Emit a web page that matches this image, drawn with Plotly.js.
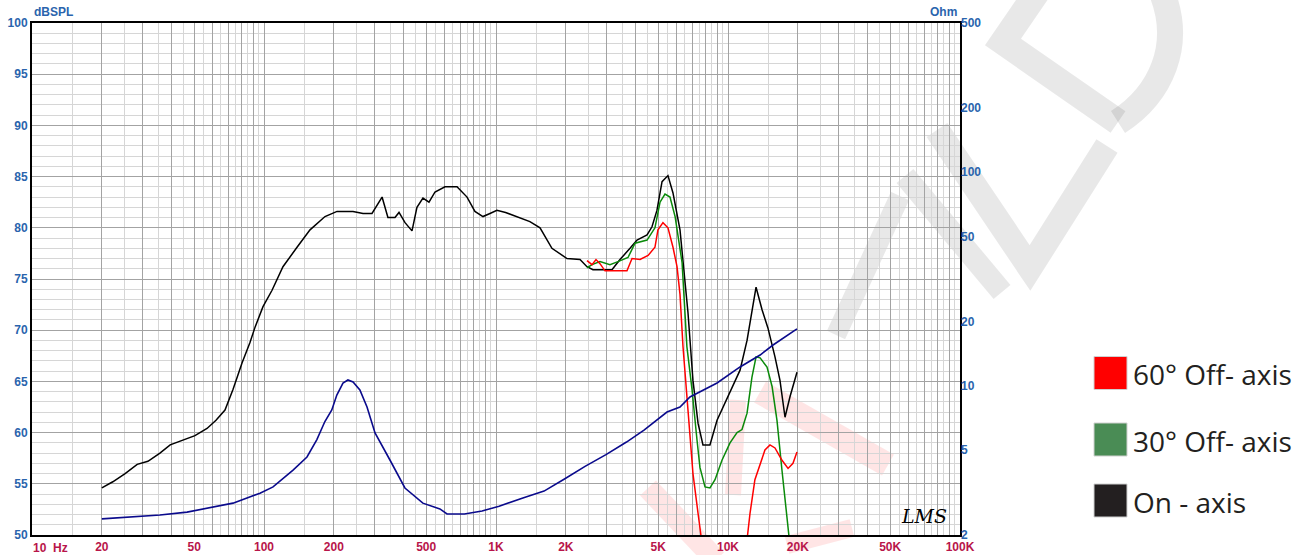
<!DOCTYPE html>
<html>
<head>
<meta charset="utf-8">
<script src="https://cdn.plot.ly/plotly-3.0.1.min.js"></script>
<style>html,body{margin:0;padding:0;background:#fff;}#chart{width:1310px;height:555px;}</style>
</head>
<body>
<div id="chart"></div>
<script>
// ---------- DATA ----------
const onAxisFreq = [20,22.3,25.2,28.4,31.6,35.6,39.4,44.3,50.4,56.8,60.3,62.1,67.9,73.5,80.4,87,91.5,99,108.3,113.7,120.7,138.8,157.9,183.2,206.4,241.9,267.2,292.1,322.8,342.1,367,381.9,405.4,434.5,456.3,484.3,514.2,545.9,602.7,679.1,750.1,811.2,878.8,942,1009,1100,1250,1400,1548,1742,2023,2302,2467,2618,3162,3423,3782,4053,4478,4703,4940,5196,5511,5793,6210,6527,6723,7063,7430,7800,8360,8970,9700,10510,11270,12080,13210,14020,14870,15940,16750,17610,18500,19830];
const onAxisDb   = [54.6,55.2,56.0,56.9,57.2,58.0,58.8,59.2,59.7,60.4,60.9,61.2,62.2,64.2,66.8,68.8,70.3,72.3,73.9,74.9,76.2,78.1,79.8,81.1,81.6,81.6,81.4,81.4,83.0,81.0,81.0,81.5,80.5,79.7,82.0,82.9,82.5,83.5,84.0,84.0,83.0,81.6,81.1,81.4,81.7,81.5,81.0,80.6,80.0,78.0,77.0,76.9,76.2,75.9,75.9,76.9,78.0,78.8,79.3,80.1,81.7,84.5,85.1,83.4,79.8,74.2,71.7,65.1,60.9,58.8,58.8,61.2,62.9,64.5,66.1,69.0,74.2,72.0,70.2,67.4,65.1,61.5,63.5,65.9];

const off30Freq = [2467,2594,2807,3099,3355,3707,3975,4478,4843,5094,5350,5623,5916,6340,6650,6998,7350,7570,7960,8360,8790,9420,10200,10940,11490,12080,12680,13210,13750,14730,15490,16260,17090,17960,18330,18700];
const off30Db   = [76.1,76.4,76.7,76.4,76.7,77.1,78.5,78.8,80.0,82.5,83.3,83.0,81.1,76.6,68.4,64.2,59.3,56.6,54.7,54.6,55.4,57.3,59.0,60.0,60.3,61.9,65.4,67.4,67.3,66.4,64.5,61.2,56.3,52.1,49.8,47.5];

const off60Freq = [2467,2594,2698,2807,2951,3669,3857,4178,4524,4843,4990,5244,5511,5793,6030,6210,6397,6723,7063,7430,7650,7900,11800,12080,12440,13060,13750,14430,15170,15940,17090,18150,19060,19830];
const off60Db   = [76.8,76.4,76.9,76.5,75.8,75.8,77.0,76.9,77.3,78.1,79.8,80.5,80.0,78.1,76.2,73.5,68.4,61.9,56.0,52.1,49.8,47.5,47.5,49.8,52.1,55.4,57.0,58.3,58.8,58.5,57.3,56.5,57.0,58.1];

const impFreq = [20,27.3,35.6,46.6,60.3,73.5,96.1,109.4,133.4,153.2,169,183,196,206,219,230,242,259,278,292,301,349,405,484,573,615,731,871,1031,1306,1611,1973,2420,2979,3652,4345,4898,5458,6210,6855,8970,11270,13750,15640,19830];
const impOhm  = [2.38,2.43,2.48,2.56,2.71,2.82,3.14,3.36,4.03,4.64,5.6,6.8,7.7,9.05,10.3,10.64,10.42,9.55,7.95,6.77,6.01,4.49,3.32,2.82,2.65,2.51,2.51,2.59,2.73,2.98,3.21,3.66,4.19,4.76,5.45,6.2,6.85,7.53,7.95,8.86,10.3,12.25,13.93,15.52,18.45];

const xLabelVals = [20,50,100,200,500,1000,2000,5000,10000,20000,50000,100000];
const xLabelText = ["20","50","100","200","500","1K","2K","5K","10K","20K","50K","100K"];
const yTicks  = [50,55,60,65,70,75,80,85,90,95,100];
const ohmTicks = [2,5,10,20,50,100,200,500];
const legendNames  = ["60° Off- axis","30° Off- axis","On - axis"];
const legendColors = ["#ff0000","#4a8c55","#231f20"];

// ---------- geometry helpers ----------
const W = 1310, H = 555, L = 32, R = 960, T = 23, B = 535;
const px = x => (x - L) / (R - L);
const py = y => (B - y) / (B - T);

// grid values
const majorX = [], minorX = [];
for (let d = 10; d <= 10000; d *= 10) {
  for (let k = 1; k <= 9; k++) majorX.push(k * d);
  for (let k = 1.5; k < 10; k += 1) minorX.push(k * d);
}
majorX.push(100000);
const majorXText = majorX.map(v => {
  const i = xLabelVals.findIndex(a => Math.abs(a - v) < 1e-6);
  return i >= 0 ? xLabelText[i] : "";
});

const blue = "#2a64ad";
const crimson = "#b8154a";
const tickFontY = {family: "Liberation Sans, Arial, sans-serif", size: 12, color: blue, weight: "bold"};
const tickFontX = {family: "Liberation Sans, Arial, sans-serif", size: 12, color: crimson, weight: "bold"};

const traces = [
  {x: impFreq, y: impOhm, yaxis: "y2", mode: "lines", line: {color: "#0a0a8c", width: 1.6}, hoverinfo: "skip"},
  {x: onAxisFreq, y: onAxisDb, mode: "lines", line: {color: "#000000", width: 1.5}, hoverinfo: "skip"},
  {x: off30Freq, y: off30Db, mode: "lines", line: {color: "#0a8a0a", width: 1.5}, hoverinfo: "skip"},
  {x: off60Freq, y: off60Db, mode: "lines", line: {color: "#ff0000", width: 1.5}, hoverinfo: "skip"}
];

// decorative watermark strokes (pixel paths -> paper)
function pathFrom(pts, curve) {
  return pts.map((p, i) => (i === 0 ? "M " : (p[2] || "L ")) + px(p[0]).toFixed(4) + " " + py(p[1]).toFixed(4)).join(" ");
}
const wmGray = "rgba(0,0,0,0.09)";
const wmPink = "rgba(255,0,0,0.10)";
const shapes = [];
function stroke(pts, color, w) {
  shapes.push({type: "path", xref: "paper", yref: "paper", layer: "below",
    path: pathFrom(pts), line: {color: color, width: w}});
}
stroke([[937,130],[1030,268],[1107,146]], wmGray, 25);
stroke([[905,176],[1002,292]], wmGray, 22);
stroke([[900,196],[836,335]], wmGray, 20);
stroke([[1040,-12],[1003,42],[1118,122]], wmGray, 26);
shapes.push({type: "path", xref: "paper", yref: "paper", layer: "below",
  path: "M " + px(1118) + " " + py(122) + " C " + px(1160) + " " + py(95) + " " + px(1185) + " " + py(45) + " " + px(1160) + " " + py(-12),
  line: {color: wmGray, width: 26}});
stroke([[760,392],[888,465]], wmPink, 24);
stroke([[738,400],[733,495]], wmPink, 16);
stroke([[648,488],[716,560]], wmPink, 22);
stroke([[787,545],[852,528]], wmPink, 18);

// legend squares
const legY = [373, 439.5, 500.5];
legendNames.forEach((n, i) => {
  shapes.push({type: "rect", xref: "paper", yref: "paper",
    x0: px(1094), x1: px(1127), y0: py(legY[i] + 16.5), y1: py(legY[i] - 16.5),
    fillcolor: legendColors[i], line: {color: "#d0d0d0", width: 1}});
});

const annotations = [
  {xref: "paper", yref: "paper", x: px(31), y: py(548), xanchor: "left", yanchor: "middle",
   text: "10  Hz", showarrow: false, font: tickFontX},
  {xref: "paper", yref: "paper", x: px(32), y: py(12), xanchor: "left", yanchor: "middle",
   text: "dBSPL", showarrow: false, font: {family: "Liberation Sans, Arial, sans-serif", size: 12, color: blue, weight: "bold"}},
  {xref: "paper", yref: "paper", x: px(959), y: py(12), xanchor: "right", yanchor: "middle",
   text: "Ohm", showarrow: false, font: {family: "Liberation Sans, Arial, sans-serif", size: 12, color: blue, weight: "bold"}},
  {xref: "paper", yref: "paper", x: px(924), y: py(516), xanchor: "center", yanchor: "middle",
   text: "<i>LMS</i>", showarrow: false, font: {family: "DejaVu Serif, serif", size: 19, color: "#000"}}
];
legendNames.forEach((n, i) => {
  annotations.push({xref: "paper", yref: "paper", x: px(1131), y: py(legY[i] + 1), xanchor: "left", yanchor: "middle",
    text: n, showarrow: false, font: {family: "Open Sans, sans-serif", size: 28, color: "#231f20"}});
});

const layout = {
  width: W, height: H,
  margin: {l: L, r: W - R, t: T, b: H - B, pad: 0},
  paper_bgcolor: "#ffffff",
  plot_bgcolor: "rgba(0,0,0,0)",
  showlegend: false,
  xaxis: {
    type: "log", range: [1, 5], fixedrange: true,
    tickmode: "array", tickvals: majorX, ticktext: majorXText,
    showgrid: true, gridcolor: "#a3a3a3", gridwidth: 1,
    minor: {tickmode: "array", tickvals: minorX, showgrid: true, gridcolor: "#d6d6d6", gridwidth: 1},
    showline: true, linecolor: "#000", linewidth: 2, mirror: true,
    ticks: "", tickfont: tickFontX, zeroline: false
  },
  yaxis: {
    range: [50, 100], fixedrange: true,
    tickmode: "array", tickvals: yTicks,
    showgrid: true, gridcolor: "#a3a3a3", gridwidth: 1,
    minor: {dtick: 1, showgrid: true, gridcolor: "#d6d6d6", gridwidth: 1},
    showline: true, linecolor: "#000", linewidth: 2, mirror: true,
    ticks: "", tickfont: tickFontY, zeroline: false
  },
  yaxis2: {
    type: "log", range: [Math.log10(2), Math.log10(500)], overlaying: "y", side: "right",
    tickmode: "array", tickvals: ohmTicks, ticktext: ohmTicks.map(String),
    showgrid: false, zeroline: false, ticks: "", tickfont: tickFontY, fixedrange: true
  },
  shapes: shapes,
  annotations: annotations
};

Plotly.newPlot("chart", traces, layout, {displayModeBar: false, staticPlot: true});
</script>
</body>
</html>
